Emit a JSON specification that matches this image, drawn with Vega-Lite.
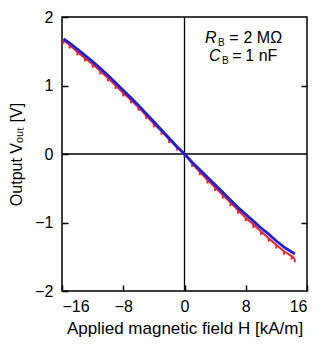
{
  "$schema": "https://vega.github.io/schema/vega-lite/v6.json",
  "width": 245,
  "height": 274,
  "autosize": {"type": "none"},
  "padding": {"left": 62, "top": 17, "right": 26, "bottom": 58},
  "config": {
    "view": {"stroke": "#000", "strokeWidth": 1.5},
    "font": "Liberation Sans",
    "axis": {"grid": false, "domain": false, "tickColor": "#000", "labelColor": "#000", "titleColor": "#000", "labelFont": "Liberation Sans", "titleFont": "Liberation Sans", "titleFontWeight": "normal", "labelFontSize": 16, "titleFontSize": 17, "tickWidth": 1.5}
  },
  "datasets": {
    "blue": [
      {"h": -15.8, "v": 1.68}, {"h": -15, "v": 1.62}, {"h": -14, "v": 1.53}, {"h": -13, "v": 1.44},
      {"h": -12, "v": 1.35}, {"h": -11, "v": 1.25}, {"h": -10, "v": 1.15}, {"h": -9, "v": 1.04},
      {"h": -8, "v": 0.93}, {"h": -7, "v": 0.82}, {"h": -6, "v": 0.71}, {"h": -5, "v": 0.59},
      {"h": -4, "v": 0.47}, {"h": -3, "v": 0.35}, {"h": -2, "v": 0.23}, {"h": -1, "v": 0.11},
      {"h": 0, "v": 0.0}, {"h": 1, "v": -0.12}, {"h": 2, "v": -0.23}, {"h": 3, "v": -0.34},
      {"h": 4, "v": -0.45}, {"h": 5, "v": -0.56}, {"h": 6, "v": -0.67}, {"h": 7, "v": -0.78},
      {"h": 8, "v": -0.88}, {"h": 9, "v": -0.98}, {"h": 10, "v": -1.08}, {"h": 11, "v": -1.17},
      {"h": 12, "v": -1.27}, {"h": 13, "v": -1.36}, {"h": 14, "v": -1.43}, {"h": 14.4, "v": -1.46}
    ],
    "red": [
      {"h": -15.8, "v": 1.66}, {"h": -15, "v": 1.59}, {"h": -14, "v": 1.49}, {"h": -13, "v": 1.40},
      {"h": -12, "v": 1.31}, {"h": -11, "v": 1.21}, {"h": -10, "v": 1.11}, {"h": -9, "v": 1.00},
      {"h": -8, "v": 0.89}, {"h": -7, "v": 0.79}, {"h": -6, "v": 0.68}, {"h": -5, "v": 0.56},
      {"h": -4, "v": 0.44}, {"h": -3, "v": 0.33}, {"h": -2, "v": 0.21}, {"h": -1, "v": 0.10},
      {"h": 0, "v": 0.0}, {"h": 1, "v": -0.14}, {"h": 2, "v": -0.26}, {"h": 3, "v": -0.38},
      {"h": 4, "v": -0.49}, {"h": 5, "v": -0.60}, {"h": 6, "v": -0.71}, {"h": 7, "v": -0.82},
      {"h": 8, "v": -0.93}, {"h": 9, "v": -1.03}, {"h": 10, "v": -1.13}, {"h": 11, "v": -1.23},
      {"h": 12, "v": -1.33}, {"h": 13, "v": -1.42}, {"h": 14, "v": -1.49}, {"h": 14.4, "v": -1.53}
    ],
    "italic": [
      {"h": 2.68, "v": 1.62, "t": "R"},
      {"h": 3.2, "v": 1.36, "t": "C"}
    ],
    "sub": [
      {"h": 4.37, "v": 1.57, "t": "B"},
      {"h": 4.9, "v": 1.31, "t": "B"}
    ],
    "plain": [
      {"h": 5.85, "v": 1.62, "t": "="},
      {"h": 7.7, "v": 1.62, "t": "2 MΩ"},
      {"h": 6.25, "v": 1.36, "t": "="},
      {"h": 7.95, "v": 1.36, "t": "1 nF"}
    ],
    "zero": [{"h": 0, "v": 0}]
  },
  "layer": [
    {
      "layer": [
        {
          "data": {"name": "zero"},
          "mark": {"type": "rule", "color": "#000", "strokeWidth": 1.3},
          "encoding": {
            "x": {"field": "h", "type": "quantitative", "scale": {"domain": [-16, 16], "nice": false},
                  "axis": {"orient": "bottom", "values": [-16, -8, 0, 8, 16], "format": "d", "tickSize": -6, "labelPadding": 13, "title": "Applied magnetic field H [kA/m]", "titlePadding": 6}}
          }
        },
        {
          "data": {"name": "zero"},
          "mark": {"type": "rule", "color": "#000", "strokeWidth": 1.3},
          "encoding": {
            "y": {"field": "v", "type": "quantitative", "scale": {"domain": [-2, 2], "nice": false},
                  "axis": {"orient": "left", "values": [-2, -1, 0, 1, 2], "format": "d", "tickSize": -6, "labelPadding": 15, "title": "Output Vₒᵤₜ [V]", "titlePadding": 10, "titleFontSize": 16}}
          }
        },
        {
          "data": {"name": "red"},
          "mark": {"type": "line", "color": "#e3262f", "strokeWidth": 2},
          "encoding": {
            "x": {"field": "h", "type": "quantitative"},
            "y": {"field": "v", "type": "quantitative"}
          }
        },
        {
          "data": {"name": "red"},
          "transform": [{"calculate": "datum.v - 0.05", "as": "lo"}],
          "mark": {"type": "rule", "color": "#e3262f", "strokeWidth": 2},
          "encoding": {
            "x": {"field": "h", "type": "quantitative"},
            "y": {"field": "lo", "type": "quantitative"},
            "y2": {"field": "v"}
          }
        },
        {
          "data": {"name": "blue"},
          "mark": {"type": "line", "color": "#2020d0", "strokeWidth": 2.8},
          "encoding": {
            "x": {"field": "h", "type": "quantitative"},
            "y": {"field": "v", "type": "quantitative"}
          }
        },
        {
          "data": {"name": "italic"},
          "mark": {"type": "text", "fontStyle": "italic", "fontSize": 16, "align": "left", "baseline": "alphabetic", "color": "#000"},
          "encoding": {
            "x": {"field": "h", "type": "quantitative"},
            "y": {"field": "v", "type": "quantitative"},
            "text": {"field": "t"}
          }
        },
        {
          "data": {"name": "sub"},
          "mark": {"type": "text", "fontSize": 10, "align": "left", "baseline": "alphabetic", "color": "#000"},
          "encoding": {
            "x": {"field": "h", "type": "quantitative"},
            "y": {"field": "v", "type": "quantitative"},
            "text": {"field": "t"}
          }
        },
        {
          "data": {"name": "plain"},
          "mark": {"type": "text", "fontSize": 16, "align": "left", "baseline": "alphabetic", "color": "#000"},
          "encoding": {
            "x": {"field": "h", "type": "quantitative"},
            "y": {"field": "v", "type": "quantitative"},
            "text": {"field": "t"}
          }
        }
      ]
    },
    {
      "data": {"name": "zero"},
      "mark": {"type": "point", "opacity": 0},
      "encoding": {
        "y": {"field": "v", "type": "quantitative",
              "axis": {"orient": "right", "values": [-1, 1], "tickSize": -6, "labels": false, "title": null}}
      }
    }
  ],
  "resolve": {"axis": {"y": "independent"}}
}
